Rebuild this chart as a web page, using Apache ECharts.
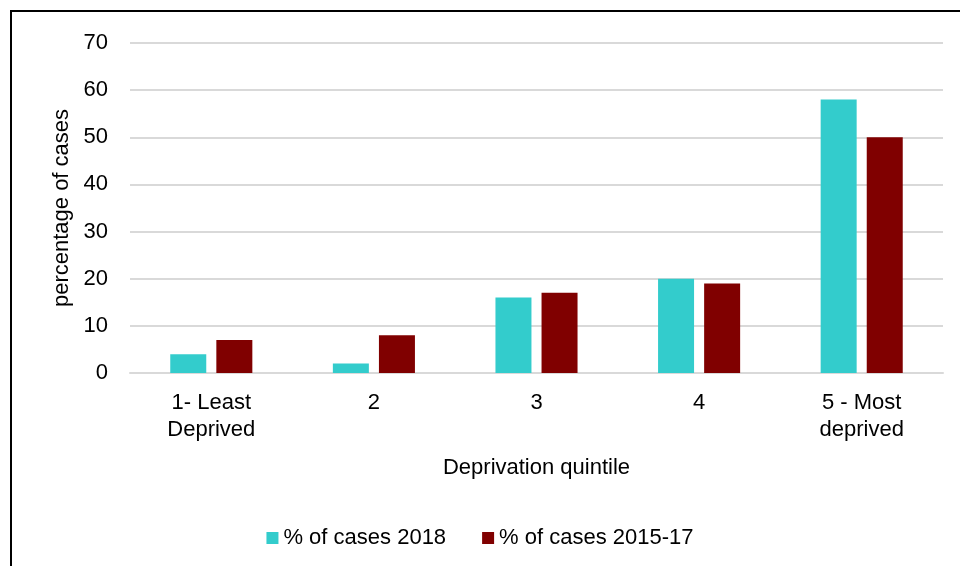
<!DOCTYPE html>
<html>
<head>
<meta charset="utf-8">
<script src="https://cdn.jsdelivr.net/npm/echarts@6/dist/echarts.min.js"></script>
<style>
  html, body { margin: 0; padding: 0; background: #fff; }
  #chart { width: 960px; height: 566px; }
</style>
</head>
<body>
<div id="chart"></div>
<script>
var categories = ['1- Least\nDeprived', '2', '3', '4', '5 - Most\ndeprived'];
var cases2018 = [4, 2, 16, 20, 58];
var cases2015 = [7, 8, 17, 19, 50];
var yTicks = [0, 10, 20, 30, 40, 50, 60, 70];

var font = 'Liberation Sans, Arial, sans-serif';
var myChart = echarts.init(document.getElementById('chart'));
myChart.setOption({
    animation: false,
    graphic: [{
        type: 'rect',
        shape: { x: 11, y: 11, width: 970, height: 580 },
        style: { fill: 'none', stroke: '#000', lineWidth: 2 }
    }],
    grid: { left: 130, right: 17, top: 43, bottom: 193 },
    legend: {
        top: 522,
        left: 'center',
        itemWidth: 12,
        itemHeight: 12,
        itemGap: 36,
        icon: 'rect',
        textStyle: { fontFamily: font, fontSize: 22, color: '#000' },
        data: ['% of cases 2018', '% of cases 2015-17']
    },
    xAxis: {
        type: 'category',
        data: categories,
        name: 'Deprivation quintile',
        nameLocation: 'middle',
        nameGap: 84,
        nameTextStyle: { fontFamily: font, fontSize: 22, color: '#000' },
        axisLine: { lineStyle: { color: '#d9d9d9', width: 2 } },
        axisTick: { show: false },
        axisLabel: { fontFamily: font, fontSize: 22, color: '#000', lineHeight: 27, margin: 16 }
    },
    yAxis: {
        type: 'value',
        min: yTicks[0],
        max: yTicks[yTicks.length - 1],
        interval: 10,
        name: 'percentage of cases',
        nameLocation: 'middle',
        nameGap: 54,
        nameTextStyle: { fontFamily: font, fontSize: 22, color: '#000' },
        axisLine: { show: false },
        axisTick: { show: false },
        axisLabel: { fontFamily: font, fontSize: 22, color: '#000', margin: 22 },
        splitLine: { lineStyle: { color: '#d9d9d9', width: 2 } }
    },
    series: [{
        name: '% of cases 2018',
        type: 'bar',
        data: cases2018,
        barWidth: 36,
        barGap: '28%',
        itemStyle: { color: '#33cccc' }
    }, {
        name: '% of cases 2015-17',
        type: 'bar',
        data: cases2015,
        barWidth: 36,
        barGap: '28%',
        itemStyle: { color: '#800000' }
    }]
});
</script>
</body>
</html>
